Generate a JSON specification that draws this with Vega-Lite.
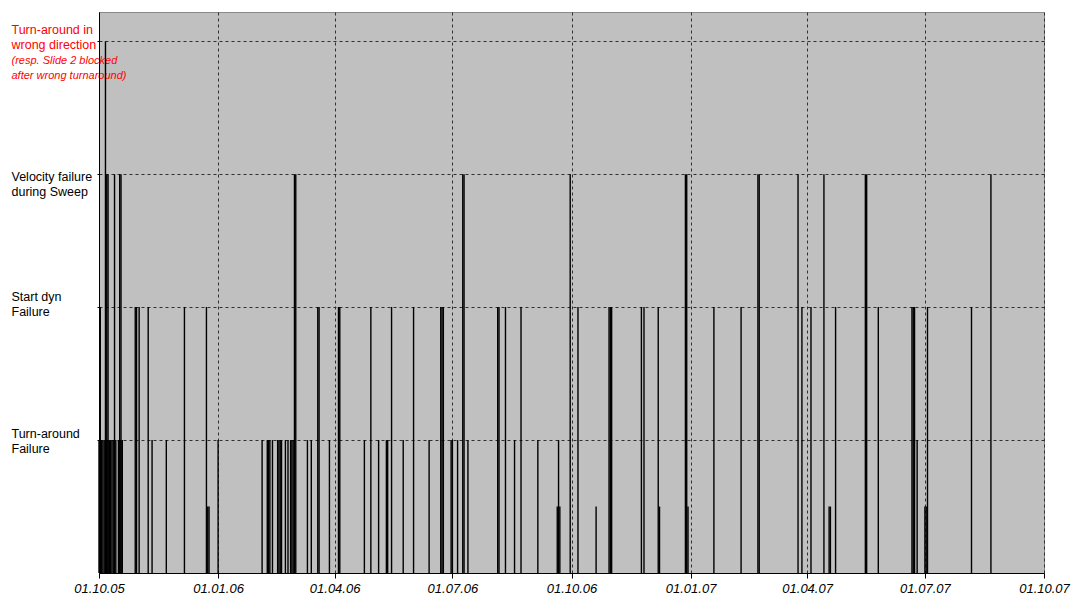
{
  "$schema": "https://vega.github.io/schema/vega-lite/v6.json",
  "width": 945,
  "height": 561,
  "autosize": "none",
  "padding": {"left": 99, "top": 12, "right": 27, "bottom": 26},
  "background": "white",
  "config": {
    "view": {"fill": "#c0c0c0", "stroke": "#8a8a8a", "strokeWidth": 1},
    "font": "Liberation Sans"
  },
  "data": {
    "values": [
      {"d": "2005-10-01", "lvl": 1}, {"d": "2005-10-02", "lvl": 1}, {"d": "2005-10-03", "lvl": 1}, {"d": "2005-10-04", "lvl": 1},
      {"d": "2005-10-05", "lvl": 1}, {"d": "2005-10-06", "lvl": 1}, {"d": "2005-10-07", "lvl": 1}, {"d": "2005-10-08", "lvl": 1},
      {"d": "2005-10-09", "lvl": 1}, {"d": "2005-10-10", "lvl": 1}, {"d": "2005-10-11", "lvl": 1}, {"d": "2005-10-12", "lvl": 1},
      {"d": "2005-10-13", "lvl": 1}, {"d": "2005-10-14", "lvl": 1}, {"d": "2005-10-16", "lvl": 1}, {"d": "2005-10-17", "lvl": 1},
      {"d": "2005-10-18", "lvl": 1}, {"d": "2005-10-19", "lvl": 1},
      {"d": "2005-11-11", "lvl": 1}, {"d": "2005-11-22", "lvl": 1}, {"d": "2006-01-01", "lvl": 1}, {"d": "2006-02-04", "lvl": 1},
      {"d": "2006-02-08", "lvl": 1}, {"d": "2006-02-09", "lvl": 1}, {"d": "2006-02-10", "lvl": 1}, {"d": "2006-02-12", "lvl": 1},
      {"d": "2006-02-16", "lvl": 1}, {"d": "2006-02-17", "lvl": 1}, {"d": "2006-02-18", "lvl": 1}, {"d": "2006-02-19", "lvl": 1},
      {"d": "2006-02-22", "lvl": 1}, {"d": "2006-02-24", "lvl": 1}, {"d": "2006-02-26", "lvl": 1}, {"d": "2006-02-27", "lvl": 1},
      {"d": "2006-02-28", "lvl": 1}, {"d": "2006-03-11", "lvl": 1}, {"d": "2006-03-14", "lvl": 1}, {"d": "2006-03-28", "lvl": 1},
      {"d": "2006-04-24", "lvl": 1}, {"d": "2006-05-05", "lvl": 1}, {"d": "2006-05-11", "lvl": 1}, {"d": "2006-05-12", "lvl": 1},
      {"d": "2006-05-24", "lvl": 1}, {"d": "2006-06-13", "lvl": 1}, {"d": "2006-06-30", "lvl": 1}, {"d": "2006-07-01", "lvl": 1},
      {"d": "2006-07-05", "lvl": 1}, {"d": "2006-07-13", "lvl": 1}, {"d": "2006-08-18", "lvl": 1}, {"d": "2006-09-05", "lvl": 1},
      {"d": "2006-09-21", "lvl": 1}, {"d": "2007-06-25", "lvl": 1},
      {"d": "2005-10-02", "lvl": 2}, {"d": "2005-10-29", "lvl": 2}, {"d": "2005-10-30", "lvl": 2}, {"d": "2005-11-01", "lvl": 2},
      {"d": "2005-11-08", "lvl": 2}, {"d": "2005-12-06", "lvl": 2}, {"d": "2005-12-23", "lvl": 2}, {"d": "2006-03-19", "lvl": 2},
      {"d": "2006-03-20", "lvl": 2}, {"d": "2006-04-04", "lvl": 2}, {"d": "2006-04-05", "lvl": 2}, {"d": "2006-04-29", "lvl": 2},
      {"d": "2006-05-15", "lvl": 2}, {"d": "2006-06-01", "lvl": 2}, {"d": "2006-06-22", "lvl": 2}, {"d": "2006-06-23", "lvl": 2},
      {"d": "2006-06-24", "lvl": 2}, {"d": "2006-08-05", "lvl": 2}, {"d": "2006-08-06", "lvl": 2}, {"d": "2006-08-11", "lvl": 2},
      {"d": "2006-08-23", "lvl": 2}, {"d": "2006-10-06", "lvl": 2}, {"d": "2006-10-30", "lvl": 2}, {"d": "2006-10-31", "lvl": 2},
      {"d": "2006-11-01", "lvl": 2}, {"d": "2006-11-24", "lvl": 2}, {"d": "2006-11-26", "lvl": 2}, {"d": "2006-12-07", "lvl": 2},
      {"d": "2007-01-19", "lvl": 2}, {"d": "2007-02-09", "lvl": 2}, {"d": "2007-03-28", "lvl": 2}, {"d": "2007-04-04", "lvl": 2},
      {"d": "2007-04-23", "lvl": 2}, {"d": "2007-05-26", "lvl": 2}, {"d": "2007-06-21", "lvl": 2}, {"d": "2007-06-22", "lvl": 2},
      {"d": "2007-06-23", "lvl": 2}, {"d": "2007-07-03", "lvl": 2}, {"d": "2007-08-06", "lvl": 2},
      {"d": "2005-10-07", "lvl": 3}, {"d": "2005-10-08", "lvl": 3}, {"d": "2005-10-13", "lvl": 3}, {"d": "2005-10-17", "lvl": 3},
      {"d": "2005-10-18", "lvl": 3}, {"d": "2006-03-01", "lvl": 3}, {"d": "2006-03-02", "lvl": 3}, {"d": "2006-07-09", "lvl": 3},
      {"d": "2006-07-10", "lvl": 3}, {"d": "2006-09-30", "lvl": 3}, {"d": "2006-12-28", "lvl": 3}, {"d": "2006-12-29", "lvl": 3},
      {"d": "2007-02-22", "lvl": 3}, {"d": "2007-02-23", "lvl": 3}, {"d": "2007-03-25", "lvl": 3}, {"d": "2007-04-14", "lvl": 3},
      {"d": "2007-05-16", "lvl": 3}, {"d": "2007-05-17", "lvl": 3}, {"d": "2007-08-21", "lvl": 3},
      {"d": "2005-10-06", "lvl": 4},
      {"d": "2005-12-24", "lvl": 0.5}, {"d": "2005-12-25", "lvl": 0.5}, {"d": "2006-09-20", "lvl": 0.5}, {"d": "2006-09-22", "lvl": 0.5},
      {"d": "2006-10-20", "lvl": 0.5}, {"d": "2006-12-08", "lvl": 0.5}, {"d": "2006-12-30", "lvl": 0.5}, {"d": "2007-04-18", "lvl": 0.5},
      {"d": "2007-04-19", "lvl": 0.5}, {"d": "2007-07-01", "lvl": 0.5}, {"d": "2007-07-02", "lvl": 0.5}
    ]
  },
  "mark": {"type": "rule", "color": "#000000", "strokeWidth": 1.4},
  "encoding": {
    "x": {
      "field": "d",
      "type": "temporal",
      "scale": {
        "type": "utc",
        "domain": [
          {"year": 2005, "month": 10, "date": 1, "utc": true},
          {"year": 2007, "month": 10, "date": 1, "utc": true}
        ]
      },
      "axis": {
        "title": null,
        "values": [
          {"year": 2005, "month": 10, "date": 1, "utc": true},
          {"year": 2006, "month": 1, "date": 1, "utc": true},
          {"year": 2006, "month": 4, "date": 1, "utc": true},
          {"year": 2006, "month": 7, "date": 1, "utc": true},
          {"year": 2006, "month": 10, "date": 1, "utc": true},
          {"year": 2007, "month": 1, "date": 1, "utc": true},
          {"year": 2007, "month": 4, "date": 1, "utc": true},
          {"year": 2007, "month": 7, "date": 1, "utc": true},
          {"year": 2007, "month": 10, "date": 1, "utc": true}
        ],
        "labelExpr": "utcFormat(datum.value, '%d.%m.%y')",
        "labelFont": "Liberation Sans",
        "labelFontSize": 13,
        "labelFontStyle": "italic",
        "labelColor": "#000000",
        "labelPadding": 4,
        "labelFlush": false,
        "labelOverlap": false,
        "tickSize": 5,
        "tickColor": "#000000",
        "domainColor": "#000000",
        "grid": true,
        "gridColor": "#303030",
        "gridDash": [3, 3],
        "gridWidth": 1,
        "gridOpacity": 1
      }
    },
    "y": {
      "field": "lvl",
      "type": "quantitative",
      "scale": {"domain": [0, 4.22], "nice": false, "zero": true},
      "axis": {
        "title": null,
        "values": [1, 2, 3, 3.8, 4],
        "labelExpr": "datum.value == 1 ? ['Turn-around', 'Failure'] : datum.value == 2 ? ['Start dyn', 'Failure'] : datum.value == 3 ? ['Velocity failure', 'during Sweep'] : datum.value == 4 ? ['Turn-around in', 'wrong direction'] : ['(resp. Slide 2 blocked', 'after wrong turnaround)']",
        "labelAlign": "left",
        "labelBaseline": "middle",
        "labelPadding": 86,
        "labelLineHeight": {"condition": {"test": "datum.value == 3.8", "value": 14}, "value": 15},
        "labelFont": "Liberation Sans",
        "labelFontSize": {"condition": {"test": "datum.value == 3.8", "value": 11}, "value": 12.5},
        "labelFontStyle": {"condition": {"test": "datum.value == 3.8", "value": "italic"}, "value": "normal"},
        "labelColor": {"condition": {"test": "datum.value >= 3.8", "value": "#ff0000"}, "value": "#000000"},
        "labelOffset": {
          "condition": [
            {"test": "datum.value == 1", "value": -7},
            {"test": "datum.value == 2", "value": -11},
            {"test": "datum.value == 3", "value": 2},
            {"test": "datum.value == 4", "value": -12},
            {"test": "datum.value == 3.8", "value": -7}
          ],
          "value": 0
        },
        "labelOverlap": false,
        "labelFlush": false,
        "labelLimit": 200,
        "tickSize": 2,
        "tickColor": "#000000",
        "tickOpacity": {"condition": {"test": "datum.value == 3.8", "value": 0}, "value": 1},
        "domainColor": "#000000",
        "grid": true,
        "gridColor": "#303030",
        "gridDash": [3, 3],
        "gridWidth": 1,
        "gridOpacity": {"condition": {"test": "datum.value == 3.8", "value": 0}, "value": 1}
      }
    },
    "y2": {"datum": 0}
  }
}
